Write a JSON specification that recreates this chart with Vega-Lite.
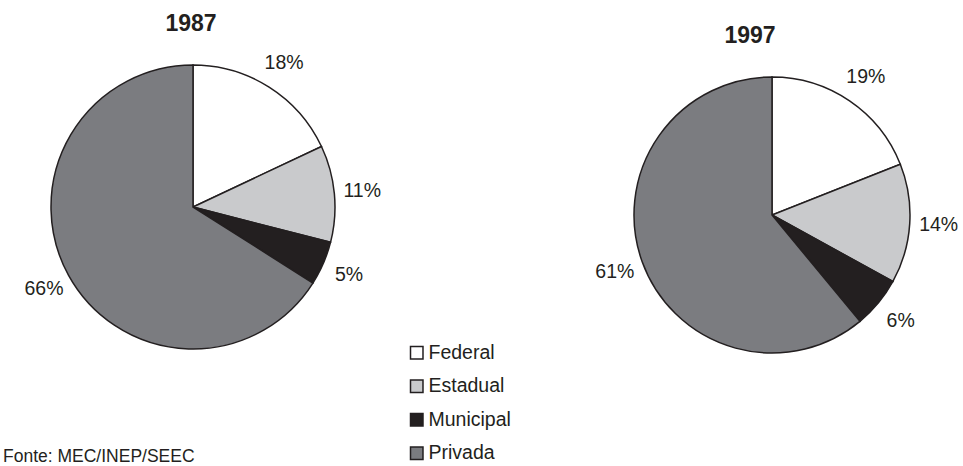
{
  "$schema": "https://vega.github.io/schema/vega-lite/v6.json",
  "width": 963,
  "height": 466,
  "autosize": {"type": "fit", "contains": "padding"},
  "padding": 0,
  "background": "white",
  "config": {"view": {"stroke": null}, "font": "Liberation Sans"},
  "title": {
    "text": "Fonte: MEC/INEP/SEEC",
    "orient": "bottom",
    "anchor": "start",
    "frame": "group",
    "fontSize": 17.5,
    "fontWeight": "normal",
    "font": "Liberation Sans",
    "color": "#231f20",
    "offset": 5,
    "dx": 3
  },
  "data": {
    "values": [
      {"ano": "1987", "categoria": "Federal", "ordem": 1, "valor": 0.18},
      {"ano": "1987", "categoria": "Estadual", "ordem": 2, "valor": 0.11},
      {"ano": "1987", "categoria": "Municipal", "ordem": 3, "valor": 0.05},
      {"ano": "1987", "categoria": "Privada", "ordem": 4, "valor": 0.66},
      {"ano": "1997", "categoria": "Federal", "ordem": 1, "valor": 0.19},
      {"ano": "1997", "categoria": "Estadual", "ordem": 2, "valor": 0.14},
      {"ano": "1997", "categoria": "Municipal", "ordem": 3, "valor": 0.06},
      {"ano": "1997", "categoria": "Privada", "ordem": 4, "valor": 0.61}
    ]
  },
  "encoding": {
    "x": {"field": "ano", "type": "ordinal", "scale": {"type": "point", "range": [193, 772], "padding": 0}, "axis": null},
    "y": {"field": "ano", "type": "ordinal", "scale": {"type": "point", "range": [207, 215], "padding": 0}, "axis": null}
  },
  "layer": [
    {
      "transform": [{"filter": "datum.ano === '1987'"}],
      "mark": {"type": "arc", "outerRadius": 142, "stroke": "#231f20", "strokeWidth": 1.5},
      "encoding": {
        "theta": {"field": "valor", "type": "quantitative", "stack": true, "scale": {"domain": [0, 1]}},
        "order": {"field": "ordem", "type": "ordinal"},
        "fill": {
          "field": "categoria",
          "type": "nominal",
          "scale": {"domain": ["Federal", "Estadual", "Municipal", "Privada"], "range": ["#ffffff", "#c9cacc", "#231f20", "#7b7c80"]},
          "legend": {
            "title": null,
            "orient": "none",
            "legendX": 407,
            "legendY": 343,
            "symbolType": "square",
            "symbolSize": 156,
            "symbolStrokeColor": "#231f20",
            "symbolStrokeWidth": 1.5,
            "labelFontSize": 19.5,
            "labelFont": "Liberation Sans",
            "labelColor": "#231f20",
            "labelOffset": 2,
            "rowPadding": 12.5
          }
        }
      }
    },
    {
      "transform": [{"filter": "datum.ano === '1997'"}],
      "mark": {"type": "arc", "outerRadius": 138, "stroke": "#231f20", "strokeWidth": 1.5},
      "encoding": {
        "theta": {"field": "valor", "type": "quantitative", "stack": true, "scale": {"domain": [0, 1]}},
        "order": {"field": "ordem", "type": "ordinal"},
        "fill": {"field": "categoria", "type": "nominal"}
      }
    },
    {
      "transform": [{"filter": "datum.ano === '1987'"}],
      "mark": {"type": "text", "radius": 170, "fontSize": 19.5, "font": "Liberation Sans", "color": "#231f20", "align": "center", "baseline": "middle"},
      "encoding": {
        "theta": {"field": "valor", "type": "quantitative", "stack": true},
        "order": {"field": "ordem", "type": "ordinal"},
        "text": {"field": "valor", "type": "quantitative", "format": ".0%"}
      }
    },
    {
      "transform": [{"filter": "datum.ano === '1997'"}],
      "mark": {"type": "text", "radius": 167, "fontSize": 19.5, "font": "Liberation Sans", "color": "#231f20", "align": "center", "baseline": "middle"},
      "encoding": {
        "theta": {"field": "valor", "type": "quantitative", "stack": true},
        "order": {"field": "ordem", "type": "ordinal"},
        "text": {"field": "valor", "type": "quantitative", "format": ".0%"}
      }
    },
    {
      "transform": [{"filter": "datum.ano === '1987' && datum.ordem === 1"}],
      "mark": {"type": "text", "dx": -2, "dy": -183, "fontSize": 23, "fontWeight": "bold", "font": "Liberation Sans", "color": "#231f20", "align": "center", "baseline": "middle"},
      "encoding": {"text": {"field": "ano", "type": "nominal"}}
    },
    {
      "transform": [{"filter": "datum.ano === '1997' && datum.ordem === 1"}],
      "mark": {"type": "text", "dx": -22, "dy": -179, "fontSize": 23, "fontWeight": "bold", "font": "Liberation Sans", "color": "#231f20", "align": "center", "baseline": "middle"},
      "encoding": {"text": {"field": "ano", "type": "nominal"}}
    }
  ]
}
